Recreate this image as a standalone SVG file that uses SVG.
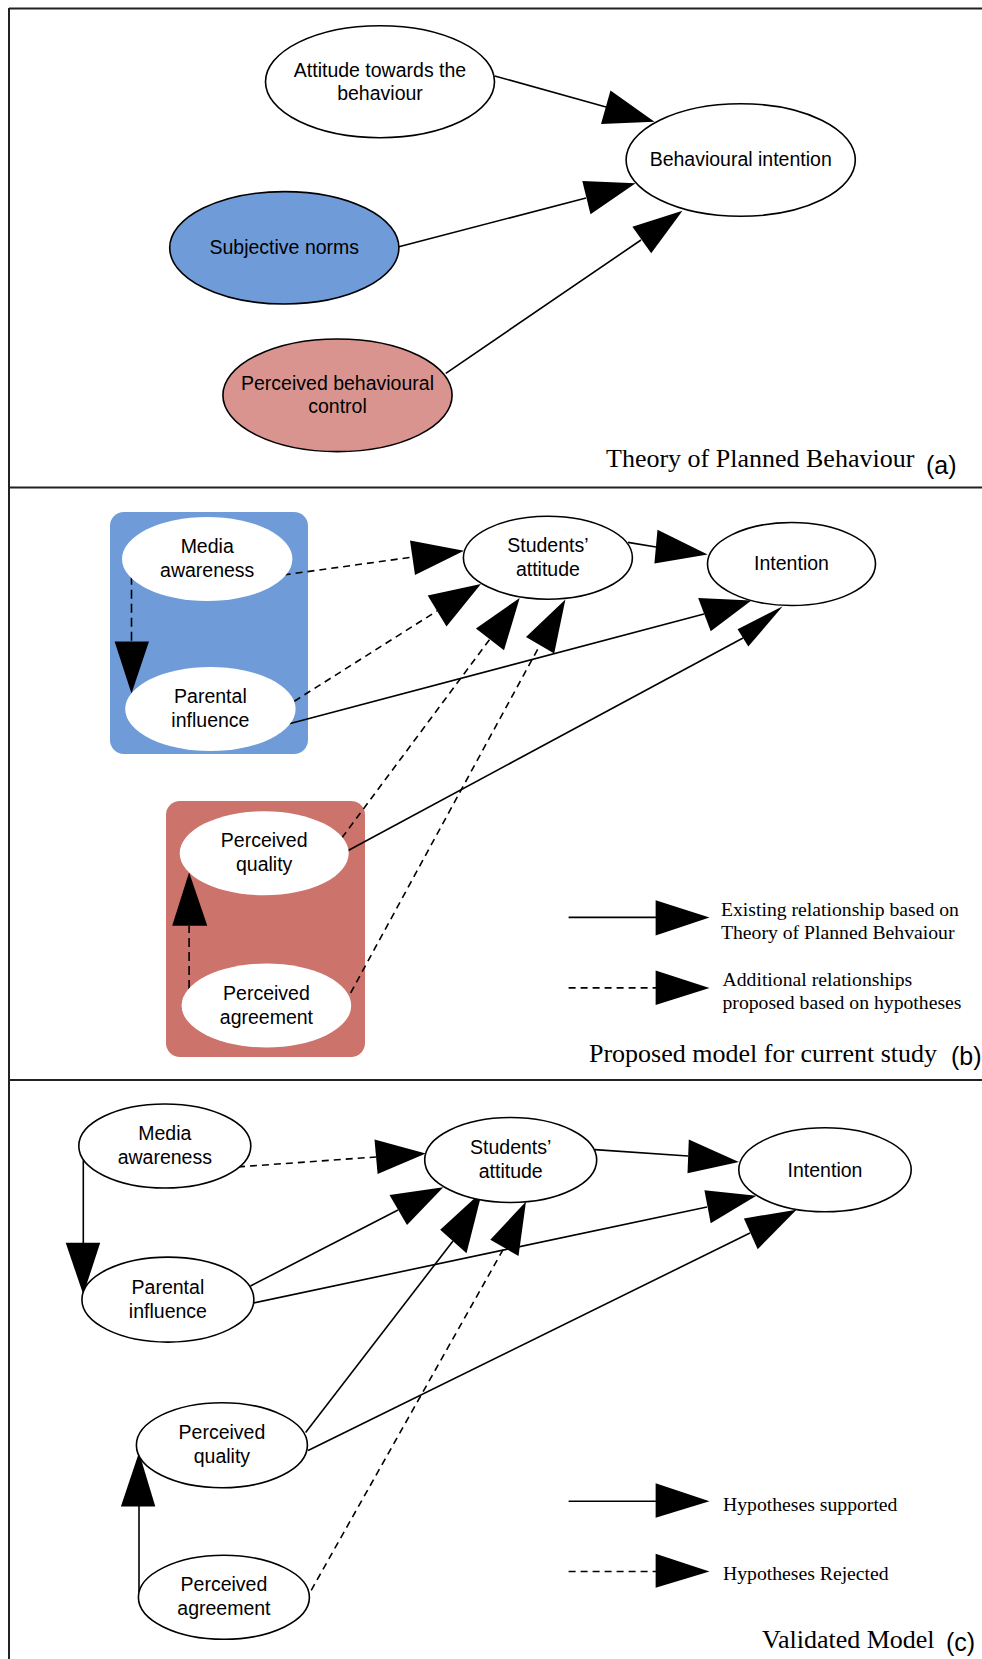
<svg xmlns="http://www.w3.org/2000/svg" width="982" height="1659" viewBox="0 0 982 1659">
  <style>
    .frame { stroke: #222; stroke-width: 2; fill: none; }
    .node { stroke: #000; stroke-width: 1.6; fill: #fff; }
    .bare { fill: #fff; stroke: none; }
    .lbl { font-family: "Liberation Sans", Arial, sans-serif; font-size: 19.5px; fill: #000; text-anchor: middle; }
    .cap { font-family: "Liberation Serif", "Times New Roman", serif; font-size: 26px; fill: #000; }
    .tag { font-family: "Liberation Sans", Arial, sans-serif; font-size: 25px; fill: #000; }
    .leg { font-family: "Liberation Serif", "Times New Roman", serif; font-size: 19.7px; fill: #000; }
    .solid { stroke: #000; stroke-width: 1.6; fill: none; }
    .dash { stroke: #000; stroke-width: 1.6; fill: none; stroke-dasharray: 7 5; }
    .head { fill: #000; stroke: none; }
  </style>

  <rect x="0" y="0" width="982" height="1659" fill="#fff"/>

  <!-- panel frame -->
  <g id="frame">
    <line class="frame" x1="9" y1="8.5" x2="982" y2="8.5"/>
    <line class="frame" x1="9" y1="8" x2="9" y2="1659"/>
    <line class="frame" x1="9" y1="487.5" x2="982" y2="487.5"/>
    <line class="frame" x1="9" y1="1080" x2="982" y2="1080"/>
  </g>

  <!-- group boxes of panel (b) -->
  <rect id="box-social" x="110" y="512" width="198" height="242" rx="14" fill="#6f9cd9"/>
  <rect id="box-product" x="166" y="801" width="199" height="256" rx="14" fill="#cc736c"/>

  <!-- connectors -->
  <g id="connectors">
    <!-- (a) -->
    <line class="solid" x1="494.7" y1="76" x2="606" y2="107"/>
    <polygon class="head" points="610.5,90.5 654.5,121.7 601,124"/>
    <line class="solid" x1="398.9" y1="246.7" x2="586" y2="198"/>
    <polygon class="head" points="582.3,181 635.6,183.3 590.5,214.3"/>
    <line class="solid" x1="445.8" y1="373.3" x2="641" y2="240"/>
    <polygon class="head" points="632.4,226.7 682.5,210.7 651.2,253.3"/>

    <!-- (b) -->
    <line class="dash" x1="283.7" y1="574.9" x2="413" y2="557"/>
    <polygon class="head" points="410,540.5 464,550.7 415,575"/>
    <line class="solid" x1="628" y1="542.4" x2="656" y2="547"/>
    <polygon class="head" points="657.5,529.8 707.6,554.6 654.4,563.4"/>
    <line class="dash" x1="294.3" y1="701.2" x2="437" y2="611"/>
    <polygon class="head" points="427.7,595.6 480.9,584.1 446.5,626.6"/>
    <line class="solid" x1="289.3" y1="723.8" x2="704" y2="614"/>
    <polygon class="head" points="698.2,597.9 751.4,600.5 710.7,631.2"/>
    <line class="dash" x1="341.9" y1="837.8" x2="490" y2="639"/>
    <polygon class="head" points="475.9,628.5 519.7,597.9 504,650.3"/>
    <line class="solid" x1="348.2" y1="850.5" x2="743" y2="638"/>
    <polygon class="head" points="737.6,629.3 782.7,606.3 748.3,646.5"/>
    <line class="dash" x1="350.7" y1="992.8" x2="540" y2="645"/>
    <polygon class="head" points="526,636.9 565.4,599.4 554.2,653.4"/>
    <line class="dash" x1="131.5" y1="575.7" x2="131.5" y2="642" style="stroke-dasharray: 9 5"/>
    <polygon class="head" points="114.6,641.5 131.5,693.5 149,641.5"/>
    <line class="dash" x1="189.1" y1="989" x2="189.1" y2="926" style="stroke-dasharray: 9 5"/>
    <polygon class="head" points="172.2,925.8 189.1,872.3 207.3,925.8"/>

    <!-- (b) key -->
    <line class="solid" x1="568.6" y1="917.4" x2="656" y2="917.4"/>
    <polygon class="head" points="655.6,900.2 709.5,917.4 655.6,935.4"/>
    <line class="dash" x1="568.6" y1="987.9" x2="656" y2="987.9"/>
    <polygon class="head" points="655.6,970.6 709.5,987.9 655.6,1005"/>

    <!-- (c) -->
    <line class="dash" x1="238" y1="1166.9" x2="376" y2="1157"/>
    <polygon class="head" points="374.5,1139.5 425.8,1153.4 377.6,1174.1"/>
    <line class="solid" x1="594.9" y1="1149.6" x2="688" y2="1156"/>
    <polygon class="head" points="688.8,1139.5 738.9,1162 687.5,1173.3"/>
    <line class="solid" x1="83.3" y1="1160.2" x2="83.3" y2="1243"/>
    <polygon class="head" points="65.7,1242.8 83.3,1294.6 100.2,1242.8"/>
    <line class="solid" x1="250.5" y1="1286" x2="398" y2="1210"/>
    <polygon class="head" points="389.5,1195.1 443.3,1187.2 407,1225.1"/>
    <line class="solid" x1="253.6" y1="1302.9" x2="707" y2="1207"/>
    <polygon class="head" points="704.4,1190.2 756.4,1195.8 710.7,1223.3"/>
    <line class="solid" x1="305.6" y1="1432.5" x2="453" y2="1241"/>
    <polygon class="head" points="440.2,1229.7 482.2,1191.3 466.5,1253.3"/>
    <line class="solid" x1="308.1" y1="1450.5" x2="750" y2="1233"/>
    <polygon class="head" points="743.9,1218.4 796.5,1209.7 757.7,1249.2"/>
    <line class="dash" x1="311.2" y1="1590.3" x2="504" y2="1248"/>
    <polygon class="head" points="490.3,1239.8 526,1201.5 518.5,1256"/>
    <line class="solid" x1="139" y1="1592.2" x2="139" y2="1506"/>
    <polygon class="head" points="120.9,1506.5 139,1452.4 155.3,1506.5"/>

    <!-- (c) key -->
    <line class="solid" x1="568.6" y1="1501.3" x2="656" y2="1501.3"/>
    <polygon class="head" points="655.6,1483.2 709.5,1501.3 655.6,1517.8"/>
    <line class="dash" x1="568.6" y1="1571.5" x2="656" y2="1571.5"/>
    <polygon class="head" points="655.6,1553.8 709.5,1571.5 655.6,1587.7"/>
  </g>

  <!-- (a) Theory of Planned Behaviour -->
  <g id="a-attitude">
    <ellipse class="node" cx="380" cy="81.7" rx="114.5" ry="56"/>
    <text class="lbl" x="380" y="76.5">Attitude towards the</text>
    <text class="lbl" x="380" y="99.5">behaviour</text>
  </g>
  <g id="a-intention">
    <ellipse class="node" cx="740.7" cy="160" rx="114.6" ry="56.3"/>
    <text class="lbl" x="740.7" y="166">Behavioural intention</text>
  </g>
  <g id="a-norms">
    <ellipse class="node" cx="284.3" cy="247.8" rx="114.6" ry="56.2" style="fill:#6f9cd9"/>
    <text class="lbl" x="284.3" y="253.8">Subjective norms</text>
  </g>
  <g id="a-control">
    <ellipse class="node" cx="337.5" cy="395.3" rx="114.6" ry="56.3" style="fill:#d9948f"/>
    <text class="lbl" x="337.5" y="389.5">Perceived behavioural</text>
    <text class="lbl" x="337.5" y="412.5">control</text>
  </g>
  <g id="a-caption">
    <text class="cap" x="606" y="467">Theory of Planned Behaviour</text>
    <text class="tag" x="926" y="474">(a)</text>
  </g>

  <!-- (b) Proposed model -->
  <g id="b-media">
    <ellipse class="bare" cx="207.2" cy="559" rx="85.2" ry="42"/>
    <text class="lbl" x="207.2" y="553">Media</text>
    <text class="lbl" x="207.2" y="577">awareness</text>
  </g>
  <g id="b-parental">
    <ellipse class="bare" cx="210.4" cy="709" rx="85.2" ry="42"/>
    <text class="lbl" x="210.4" y="703">Parental</text>
    <text class="lbl" x="210.4" y="727">influence</text>
  </g>
  <g id="b-quality">
    <ellipse class="bare" cx="264.2" cy="853.3" rx="84.5" ry="42"/>
    <text class="lbl" x="264.2" y="847.3">Perceived</text>
    <text class="lbl" x="264.2" y="871.3">quality</text>
  </g>
  <g id="b-agreement">
    <ellipse class="bare" cx="266.4" cy="1005.5" rx="84.8" ry="42"/>
    <text class="lbl" x="266.4" y="999.5">Perceived</text>
    <text class="lbl" x="266.4" y="1023.5">agreement</text>
  </g>
  <g id="b-attitude">
    <ellipse class="node" cx="547.9" cy="557.7" rx="84.5" ry="41.5"/>
    <text class="lbl" x="547.9" y="552">Students’</text>
    <text class="lbl" x="547.9" y="576">attitude</text>
  </g>
  <g id="b-intention">
    <ellipse class="node" cx="791.5" cy="564" rx="84" ry="41.5"/>
    <text class="lbl" x="791.5" y="570">Intention</text>
  </g>
  <g id="b-key">
    <text class="leg" x="721" y="916">Existing relationship based on</text>
    <text class="leg" x="721" y="938.5">Theory of Planned Behvaiour</text>
    <text class="leg" x="722.5" y="986">Additional relationships</text>
    <text class="leg" x="722.5" y="1009">proposed based on hypotheses</text>
  </g>
  <g id="b-caption">
    <text class="cap" x="589" y="1062">Proposed model for current study</text>
    <text class="tag" x="951" y="1065">(b)</text>
  </g>

  <!-- (c) Validated model -->
  <g id="c-media">
    <ellipse class="node" cx="164.8" cy="1146" rx="86" ry="42"/>
    <text class="lbl" x="164.8" y="1140">Media</text>
    <text class="lbl" x="164.8" y="1164">awareness</text>
  </g>
  <g id="c-attitude">
    <ellipse class="node" cx="510.7" cy="1160" rx="86" ry="42.5"/>
    <text class="lbl" x="510.7" y="1154">Students’</text>
    <text class="lbl" x="510.7" y="1178">attitude</text>
  </g>
  <g id="c-intention">
    <ellipse class="node" cx="825" cy="1169.8" rx="86.2" ry="42"/>
    <text class="lbl" x="825" y="1176.8">Intention</text>
  </g>
  <g id="c-parental">
    <ellipse class="node" cx="167.9" cy="1299.6" rx="86" ry="42.5"/>
    <text class="lbl" x="167.9" y="1293.6">Parental</text>
    <text class="lbl" x="167.9" y="1317.6">influence</text>
  </g>
  <g id="c-quality">
    <ellipse class="node" cx="221.9" cy="1445.2" rx="85.5" ry="42.5"/>
    <text class="lbl" x="221.9" y="1439.2">Perceived</text>
    <text class="lbl" x="221.9" y="1463.2">quality</text>
  </g>
  <g id="c-agreement">
    <ellipse class="node" cx="223.9" cy="1597.3" rx="85.5" ry="42"/>
    <text class="lbl" x="223.9" y="1591.3">Perceived</text>
    <text class="lbl" x="223.9" y="1615.3">agreement</text>
  </g>
  <g id="c-key">
    <text class="leg" x="723" y="1511">Hypotheses supported</text>
    <text class="leg" x="723" y="1579.5">Hypotheses Rejected</text>
  </g>
  <g id="c-caption">
    <text class="cap" x="762" y="1648">Validated Model</text>
    <text class="tag" x="946" y="1651">(c)</text>
  </g>
</svg>
